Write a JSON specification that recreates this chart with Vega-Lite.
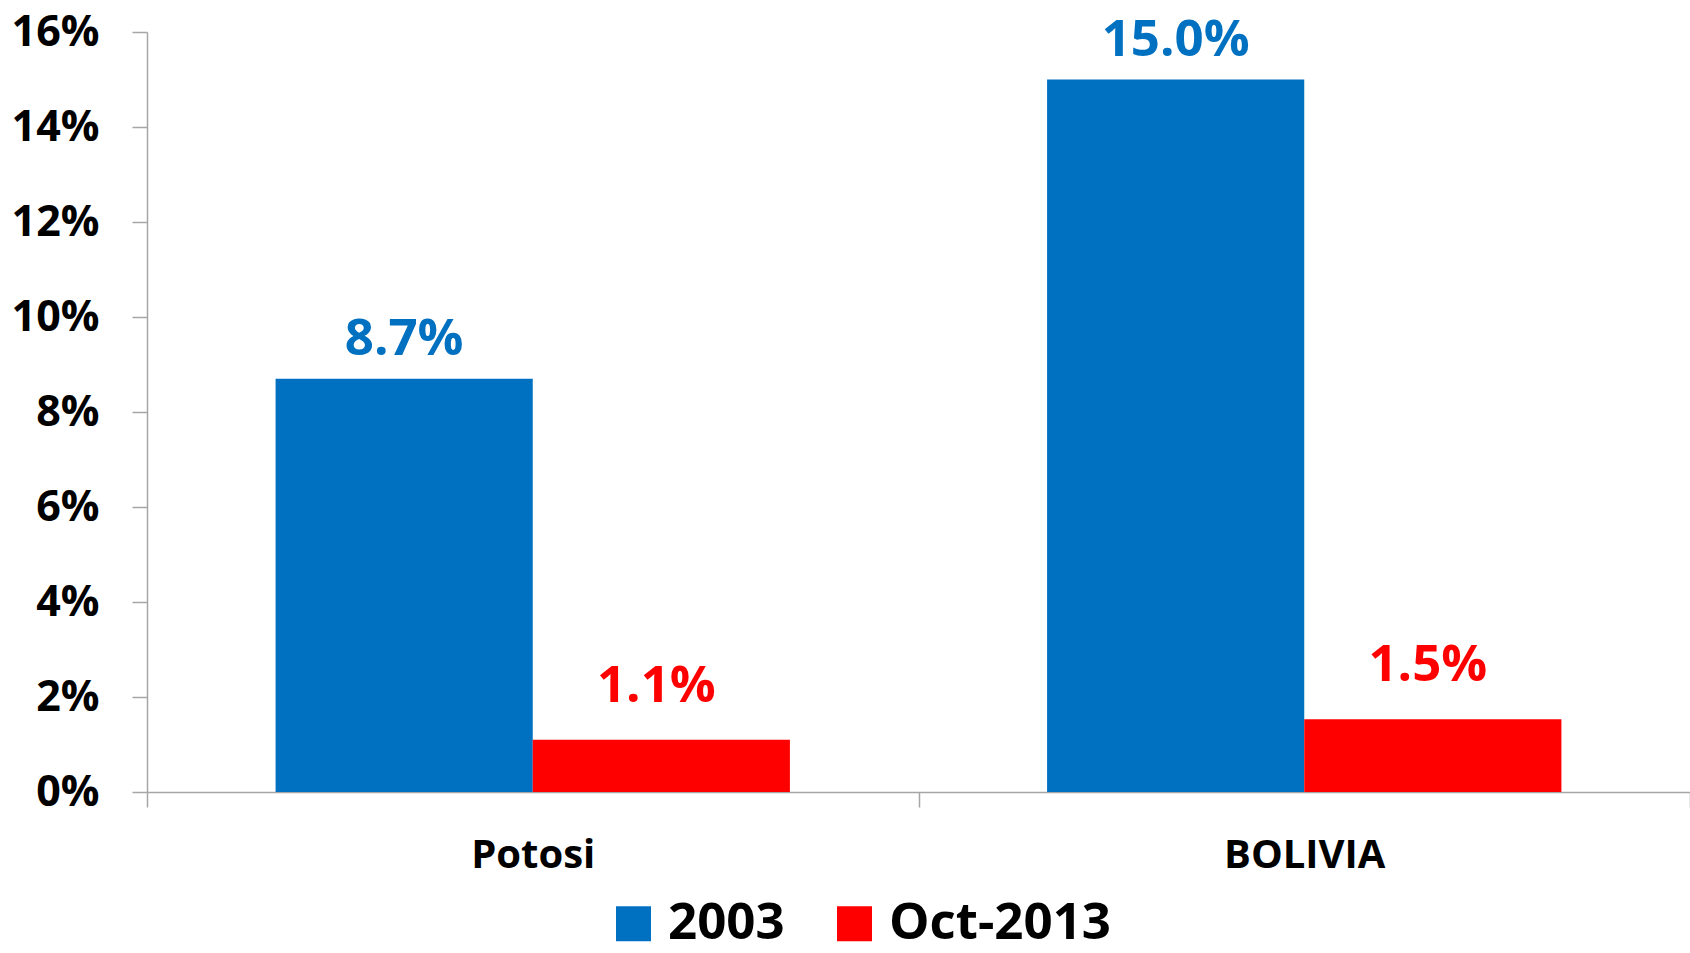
{
  "$schema": "https://vega.github.io/schema/vega-lite/v6.json",
  "width": 1543,
  "height": 760,
  "autosize": "none",
  "padding": {"left": 147, "top": 32, "right": 0, "bottom": 161},
  "background": "white",
  "config": {"view": {"stroke": null}, "font": "Open Sans"},
  "data": {
    "values": [
      {"region": "Potosi", "period": "2003", "rate": 0.087},
      {"region": "Potosi", "period": "Oct-2013", "rate": 0.011},
      {"region": "BOLIVIA", "period": "2003", "rate": 0.150},
      {"region": "BOLIVIA", "period": "Oct-2013", "rate": 0.0153}
    ]
  },
  "encoding": {
    "x": {
      "field": "region", "type": "nominal", "sort": ["Potosi", "BOLIVIA"],
      "scale": {"paddingInner": 0, "paddingOuter": 0},
      "axis": {
        "title": null, "tickBand": "extent", "labelAngle": 0,
        "labelFontSize": 40, "labelFontWeight": "bold", "labelColor": "#000000",
        "labelPadding": 60, "labelBaseline": "alphabetic",
        "tickSize": 15, "tickColor": "#A6A6A6", "tickWidth": 1.5,
        "domainColor": "#A6A6A6", "domainWidth": 1.5, "grid": false
      }
    },
    "xOffset": {
      "field": "period", "type": "nominal", "sort": ["2003", "Oct-2013"],
      "scale": {"paddingInner": 0, "paddingOuter": 0.5}
    },
    "y": {
      "field": "rate", "type": "quantitative",
      "scale": {"domain": [0, 0.16], "nice": false},
      "axis": {
        "title": null, "values": [0, 0.02, 0.04, 0.06, 0.08, 0.1, 0.12, 0.14, 0.16],
        "format": ".0%", "labelFontSize": 43, "labelFontWeight": "bold", "labelColor": "#000000",
        "tickSize": 15, "labelPadding": 33, "tickColor": "#A6A6A6", "tickWidth": 1.5,
        "domainColor": "#A6A6A6", "domainWidth": 1.5, "grid": false
      }
    },
    "color": {
      "field": "period", "type": "nominal",
      "scale": {"domain": ["2003", "Oct-2013"], "range": ["#0070C0", "#FF0000"]},
      "legend": {
        "orient": "none", "legendX": 461, "legendY": 866, "direction": "horizontal",
        "title": null, "symbolType": "square", "symbolSize": 1225, "symbolStrokeWidth": 0,
        "symbolOpacity": 1, "labelFontSize": 51, "labelFontWeight": "bold", "labelColor": "#000000",
        "labelOffset": 9, "columnPadding": 44, "labelLimit": 400
      }
    }
  },
  "layer": [
    {"mark": {"type": "bar", "opacity": 1}},
    {
      "transform": [{"filter": "datum.period === '2003'"}],
      "mark": {"type": "text", "dy": -24, "baseline": "alphabetic", "fontSize": 51, "fontWeight": "bold"},
      "encoding": {"text": {"field": "rate", "type": "quantitative", "format": ".1%"}}
    },
    {
      "transform": [{"filter": "datum.period === 'Oct-2013'"}],
      "mark": {"type": "text", "dy": -38, "dx": -5, "baseline": "alphabetic", "fontSize": 51, "fontWeight": "bold"},
      "encoding": {"text": {"field": "rate", "type": "quantitative", "format": ".1%"}}
    }
  ]
}
